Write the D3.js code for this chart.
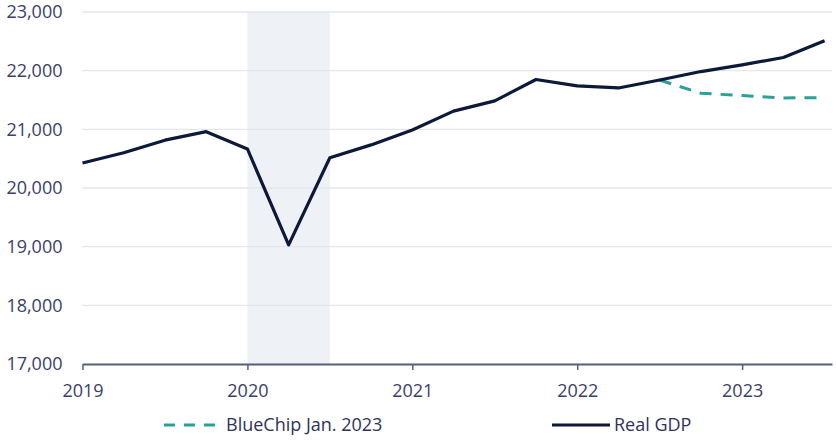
<!DOCTYPE html>
<html lang="en">
<head>
<meta charset="utf-8">
<title>Real GDP vs BlueChip forecast</title>
<script src="https://cdn.jsdelivr.net/npm/d3@7"></script>
<style>
  body { margin: 0; background: #fff; }
  text { font-family: "Open Sans", "Noto Sans", sans-serif; }
</style>
</head>
<body>
<svg id="chart" width="836" height="441"></svg>
<script>
// quarterly dates as decimal years
const gdpDates = [2019, 2019.25, 2019.5, 2019.75, 2020, 2020.25, 2020.5, 2020.75,
  2021, 2021.25, 2021.5, 2021.75, 2022, 2022.25, 2022.5, 2022.75, 2023, 2023.25, 2023.5]
const gdpValues = [20425, 20600, 20815, 20960, 20665, 19030, 20515, 20735,
  20990, 21310, 21485, 21850, 21740, 21705, 21840, 21985, 22100, 22225, 22510]

const blueChipDates = [2022.5, 2022.75, 2023, 2023.25, 2023.5]
const blueChipValues = [21840, 21615, 21575, 21535, 21540]

const recession = [2020, 2020.5]
const yearTicks = [2019, 2020, 2021, 2022, 2023]
const yTicks = [17000, 18000, 19000, 20000, 21000, 22000, 23000]

const svg = d3.select("#chart")
const plot = {left: 82.5, right: 832, top: 12, bottom: 364}

const x = d3.scaleLinear().domain([2019, 2023.545]).range([plot.left, plot.right])
const y = d3.scaleLinear().domain([17000, 23000]).range([plot.bottom, plot.top])

// recession shading
svg.append("rect")
  .attr("x", x(recession[0]))
  .attr("y", y(23000))
  .attr("width", x(recession[1]) - x(recession[0]))
  .attr("height", y(17000) - y(23000))
  .attr("fill", "#eef1f6")

// gridlines
svg.append("g")
  .selectAll("line")
  .data(yTicks.slice(1))
  .enter()
  .append("line")
  .attr("x1", plot.left)
  .attr("x2", plot.right)
  .attr("y1", d => y(d))
  .attr("y2", d => y(d))
  .attr("stroke", "#e4e6ec")
  .attr("stroke-width", 1.3)

// y axis labels
const yAxis = svg.append("g")
  .attr("transform", `translate(${plot.left},0)`)
  .call(d3.axisLeft(y).tickValues(yTicks).tickFormat(d3.format(",")).tickSize(0).tickPadding(20))
yAxis.select(".domain").remove()
yAxis.selectAll("text")
  .attr("fill", "#3b4069")
  .style("font-size", "18px")

// x axis
const xAxis = svg.append("g")
  .attr("transform", `translate(0,${plot.bottom})`)
  .call(d3.axisBottom(x).tickValues(yearTicks).tickFormat(d3.format("d")).tickSizeInner(6).tickSizeOuter(0).tickPadding(14))
xAxis.select(".domain")
  .attr("stroke", "#585d7c")
  .attr("stroke-width", 2)
xAxis.selectAll(".tick line")
  .attr("stroke", "#585d7c")
  .attr("stroke-width", 1.5)
xAxis.selectAll("text")
  .attr("fill", "#3b4069")
  .style("font-size", "18px")

const line = d3.line()
  .x(d => x(d[0]))
  .y(d => y(d[1]))

// BlueChip forecast (dashed)
svg.append("path")
  .datum(d3.zip(blueChipDates, blueChipValues))
  .attr("d", line)
  .attr("fill", "none")
  .attr("stroke", "#2aa197")
  .attr("stroke-width", 3)
  .attr("stroke-dasharray", "12,9")

// Real GDP
svg.append("path")
  .datum(d3.zip(gdpDates, gdpValues))
  .attr("d", line)
  .attr("fill", "none")
  .attr("stroke", "#0d1938")
  .attr("stroke-width", 3.2)
  .attr("stroke-linejoin", "round")

// legend
const legend = [
  {label: "BlueChip Jan. 2023", color: "#2aa197", dash: "11,9", x0: 164},
  {label: "Real GDP", color: "#0d1938", dash: null, x0: 552}
]
const lg = svg.append("g").attr("transform", "translate(0,425)")
legend.forEach(l => {
  lg.append("line")
    .attr("x1", l.x0)
    .attr("x2", l.x0 + 58)
    .attr("y1", 0)
    .attr("y2", 0)
    .attr("stroke", l.color)
    .attr("stroke-width", 3.2)
    .attr("stroke-dasharray", l.dash)
  lg.append("text")
    .attr("x", l.x0 + 62)
    .attr("y", 0)
    .attr("dy", "0.35em")
    .attr("fill", "#2e3359")
    .style("font-size", "18px")
    .text(l.label)
})
</script>
</body>
</html>
